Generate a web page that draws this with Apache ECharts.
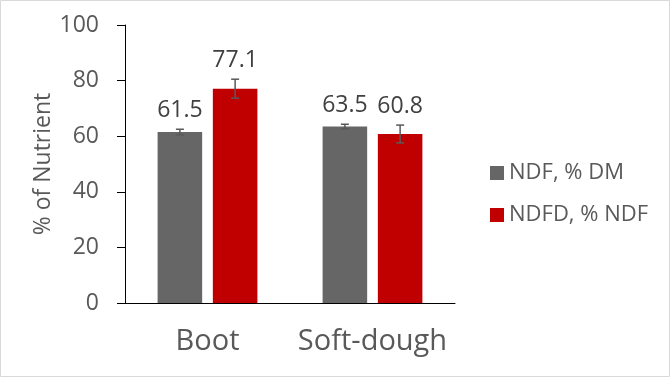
<!DOCTYPE html>
<html>
<head>
<meta charset="utf-8">
<script src="https://cdn.jsdelivr.net/npm/echarts@6/dist/echarts.min.js"></script>
<style>
  html, body { margin: 0; padding: 0; background: #fff; }
  #chart { width: 670px; height: 377px; }
</style>
</head>
<body>
<div id="chart"></div>
<script>
// data
const categories = ['Boot', 'Soft-dough'];
const seriesNames = ['NDF, % DM', 'NDFD, % NDF'];
const ndfValues = [61.5, 63.5];
const ndfdValues = [77.1, 60.8];
const ndfErrors = [1.0, 0.8];
const ndfdErrors = [3.4, 3.2];
const yTicks = [0, 20, 40, 60, 80, 100];

const FONT = '"Open Sans", "Noto Sans", sans-serif';
const BAR_W = 0.27;   // share of category band
const BAR_GAP = 0.24; // gap between bars, share of bar width

// error bar + value label, drawn over each bar
function errorRenderer(idx) {
    return function (params, api) {
        const cat = api.value(0);
        const val = api.value(1);
        const err = api.value(2);
        const band = api.size([1, 0])[0];
        const bw = band * BAR_W;
        const gap = bw * BAR_GAP;
        const dx = (idx - 0.5) * (bw + gap);
        const top = api.coord([cat, val + err]);
        const bot = api.coord([cat, val - err]);
        const x = top[0] + dx;
        const lineStyle = { stroke: '#595959', lineWidth: 1.5 };
        return {
            type: 'group',
            children: [
                { type: 'line', shape: { x1: x, y1: top[1], x2: x, y2: bot[1] }, style: lineStyle },
                { type: 'line', shape: { x1: x - 4, y1: top[1], x2: x + 4, y2: top[1] }, style: lineStyle },
                { type: 'line', shape: { x1: x - 4, y1: bot[1], x2: x + 4, y2: bot[1] }, style: lineStyle },
                {
                    type: 'text', x: x, y: top[1] - 7,
                    style: {
                        text: val.toFixed(1), fill: '#404040',
                        font: '23px ' + FONT, align: 'center', verticalAlign: 'bottom'
                    }
                }
            ]
        };
    };
}

function initChart() {
    const myChart = echarts.init(document.getElementById('chart'));
    const option = {
        animation: false,
        textStyle: { fontFamily: FONT },
        graphic: [{
            type: 'rect',
            shape: { x: 0.5, y: 0.5, width: 669, height: 376 },
            style: { fill: null, stroke: '#d9d9d9', lineWidth: 1 }
        }],
        grid: { left: 125, right: 215, top: 25, bottom: 74 },
        legend: {
            data: seriesNames,
            orient: 'vertical',
            left: 485,
            top: 157,
            itemWidth: 14,
            itemHeight: 14,
            itemGap: 20,
            icon: 'rect',
            textStyle: { color: '#595959', fontSize: 22, fontFamily: FONT }
        },
        xAxis: {
            type: 'category',
            data: categories,
            axisLine: { lineStyle: { color: '#000', width: 1 } },
            axisTick: { show: false },
            axisLabel: { color: '#595959', fontSize: 29, margin: 24, interval: 0 }
        },
        yAxis: {
            type: 'value',
            min: yTicks[0],
            max: yTicks[yTicks.length - 1],
            interval: 20,
            name: '% of Nutrient',
            nameLocation: 'middle',
            nameGap: 70,
            nameTextStyle: { color: '#595959', fontSize: 23 },
            axisLine: { show: true, lineStyle: { color: '#000', width: 1 } },
            axisTick: { show: true, length: 8, lineStyle: { color: '#000' } },
            axisLabel: { color: '#595959', fontSize: 23, margin: 26 },
            splitLine: { show: false }
        },
        series: [
            {
                name: seriesNames[0], type: 'bar', data: ndfValues,
                barWidth: BAR_W * 100 + '%', barGap: BAR_GAP * 100 + '%',
                itemStyle: { color: '#666666' }
            },
            {
                name: seriesNames[1], type: 'bar', data: ndfdValues,
                barWidth: BAR_W * 100 + '%', barGap: BAR_GAP * 100 + '%',
                itemStyle: { color: '#C00000' }
            },
            {
                type: 'custom', renderItem: errorRenderer(0), clip: false, z: 5,
                data: categories.map((c, i) => [i, ndfValues[i], ndfErrors[i]])
            },
            {
                type: 'custom', renderItem: errorRenderer(1), clip: false, z: 5,
                data: categories.map((c, i) => [i, ndfdValues[i], ndfdErrors[i]])
            }
        ]
    };
    myChart.setOption(option);
    window.addEventListener('resize', () => myChart.resize());
}

window.onload = initChart;
</script>
</body>
</html>
